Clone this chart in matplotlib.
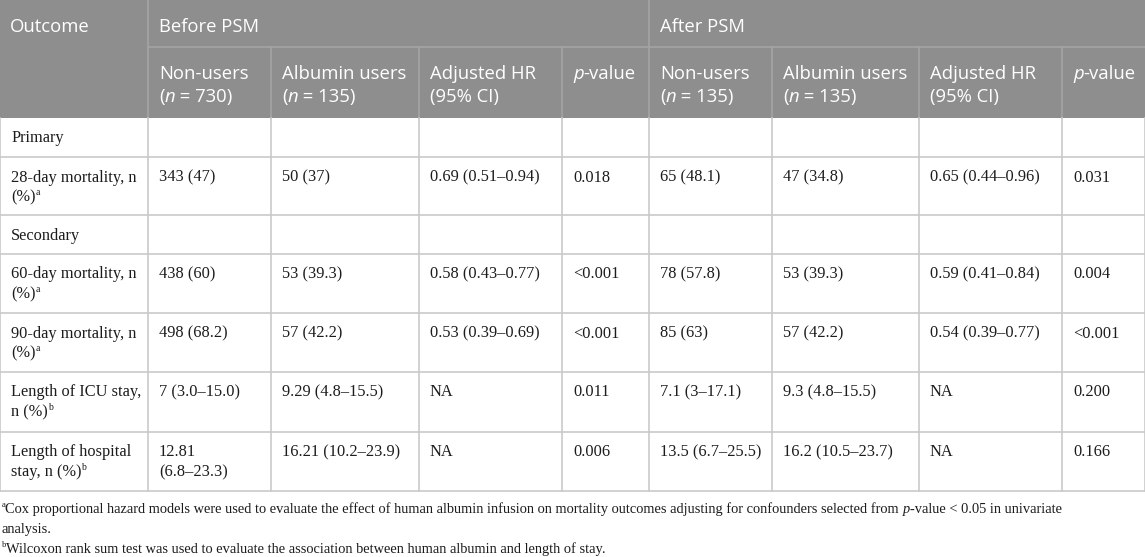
import re
import matplotlib
matplotlib.use("Agg")
import matplotlib.pyplot as plt

# ---------------- data ----------------
group_headers = ["Before PSM", "After PSM"]
col_headers = [
    "Non-users\n(*n* = 730)", "Albumin users\n(*n* = 135)", "Adjusted HR\n(95% CI)", "*p*-value",
    "Non-users\n(*n* = 135)", "Albumin users\n(*n* = 135)", "Adjusted HR\n(95% CI)", "*p*-value",
]
outcome_header = "Outcome"
row_labels = [
    "Primary",
    "28-day mortality, n\n(%)^a",
    "Secondary",
    "60-day mortality, n\n(%)^a",
    "90-day mortality, n\n(%)^a",
    "Length of ICU stay,\nn (%)^b",
    "Length of hospital\nstay, n (%)^b",
]
nonusers_before = ["", "343 (47)", "", "438 (60)", "498 (68.2)", "7 (3.0–15.0)", "12.81\n(6.8–23.3)"]
users_before = ["", "50 (37)", "", "53 (39.3)", "57 (42.2)", "9.29 (4.8–15.5)", "16.21 (10.2–23.9)"]
hr_before = ["", "0.69 (0.51–0.94)", "", "0.58 (0.43–0.77)", "0.53 (0.39–0.69)", "NA", "NA"]
p_before = ["", "0.018", "", "<0.001", "<0.001", "0.011", "0.006"]
nonusers_after = ["", "65 (48.1)", "", "78 (57.8)", "85 (63)", "7.1 (3–17.1)", "13.5 (6.7–25.5)"]
users_after = ["", "47 (34.8)", "", "53 (39.3)", "57 (42.2)", "9.3 (4.8–15.5)", "16.2 (10.5–23.7)"]
hr_after = ["", "0.65 (0.44–0.96)", "", "0.59 (0.41–0.84)", "0.54 (0.39–0.77)", "NA", "NA"]
p_after = ["", "0.031", "", "0.004", "<0.001", "0.200", "0.166"]
footnotes = [
    "^aCox proportional hazard models were used to evaluate the effect of human albumin infusion on mortality outcomes adjusting for confounders selected from *p*-value < 0.05 in univariate\nanalysis.",
    "^bWilcoxon rank sum test was used to evaluate the association between human albumin and length of stay.",
]

columns = [row_labels, nonusers_before, users_before, hr_before, p_before,
           nonusers_after, users_after, hr_after, p_after]

# ---------------- layout ----------------
W, H = 1145, 557
col_x = [0, 148, 271, 419, 562, 649, 772, 919, 1062, 1145]
head_y = [0, 47, 118]
row_y = [118, 157, 215, 254, 313, 372, 432, 491]

HEAD_BG = "#8e8e8e"
HEAD_LINE = "#a4a4a4"
BODY_LINE = "#c9c9c9"
BODY_TXT = "#1c1c1c"
SERIF = ["Liberation Serif", "DejaVu Serif"]
SANS = ["Open Sans", "DejaVu Sans"]

fig = plt.figure(figsize=(W / 100, H / 100), dpi=100)
ax = fig.add_axes([0, 0, 1, 1])
ax.set_xlim(0, W)
ax.set_ylim(H, 0)
ax.axis("off")
renderer = fig.canvas.get_renderer()


def parse(s):
    tokens = []
    for m in re.finditer(r"\*([^*]+)\*|\^(\w)|([^*^]+)", s):
        if m.group(1):
            tokens.append((m.group(1), "i"))
        elif m.group(2):
            tokens.append((m.group(2), "s"))
        else:
            tokens.append((m.group(3), "n"))
    return tokens


def draw_runs(x, y, s, size, family, color):
    for txt, st in parse(s):
        if st == "s":
            t = ax.text(x, y - size * 0.55, txt, fontsize=size * 0.6, family=family,
                        color=color, va="baseline", ha="left")
        else:
            t = ax.text(x, y, txt, fontsize=size, family=family, color=color,
                        style="italic" if st == "i" else "normal", va="baseline", ha="left")
        bb = t.get_window_extent(renderer)
        x += bb.width
    return x


def draw_cell(x, y0, s, size, family, color, lh):
    for i, line in enumerate(s.split("\n")):
        draw_runs(x, y0 + i * lh, line, size, family, color)


# header background
ax.add_patch(plt.Rectangle((0, 0), W, head_y[2], color=HEAD_BG, lw=0, zorder=0))
# header lines
ax.plot([col_x[1], W], [head_y[1], head_y[1]], color=HEAD_LINE, lw=1.2)
for cx in [col_x[1], col_x[5]]:
    ax.plot([cx, cx], [0, head_y[2]], color=HEAD_LINE, lw=1.2)
for cx in col_x[2:9]:
    if cx != col_x[5]:
        ax.plot([cx, cx], [head_y[1], head_y[2]], color=HEAD_LINE, lw=1.2)

# body lines
for ry in row_y[1:]:
    ax.plot([0, W], [ry, ry], color=BODY_LINE, lw=1.2)
for cx in col_x:
    ax.plot([cx, cx], [row_y[0], row_y[-1]], color=BODY_LINE, lw=1.2)

# header text
HS = 13.3
draw_cell(col_x[0] + 10, 32, outcome_header, HS, SANS, "white", 23)
draw_cell(col_x[1] + 11, 32, group_headers[0], HS, SANS, "white", 23)
draw_cell(col_x[5] + 11, 32, group_headers[1], HS, SANS, "white", 23)
for j, h in enumerate(col_headers):
    draw_cell(col_x[j + 1] + 11, 79, h, HS, SANS, "white", 23)

# body text
BS = 11.8
for j, col in enumerate(columns):
    for i, val in enumerate(col):
        if val:
            draw_cell(col_x[j] + 11, row_y[i] + 24.5, val, BS, SERIF, BODY_TXT, 20)

# footnotes
FS = 10.4
draw_cell(1.5, 513, footnotes[0], FS, SERIF, BODY_TXT, 19.5)
draw_cell(1.5, 553, footnotes[1], FS, SERIF, BODY_TXT, 19.5)

fig.savefig("out.png", dpi=100, facecolor="white")
